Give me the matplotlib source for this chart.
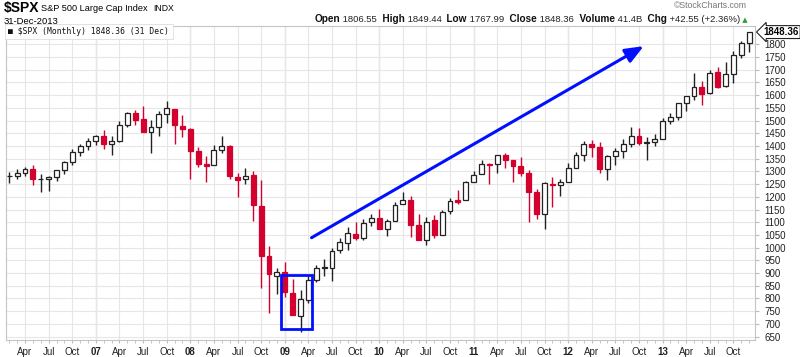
import numpy as np
import pandas as pd
import matplotlib
matplotlib.use("Agg")
import matplotlib.pyplot as plt
from matplotlib.patches import Rectangle
from matplotlib.text import Annotation

plt.rcParams['font.family'] = ['Liberation Sans', 'DejaVu Sans']

# monthly S&P 500 candles, Feb 2006 .. Dec 2013
months = pd.date_range("2006-02-01", "2013-12-01", freq="MS")
opens = [1280.0, 1280.7, 1294.8, 1310.6, 1270.1, 1270.2, 1276.7, 1303.8, 1335.9, 1377.8, 1400.6,
         1418.0, 1437.9, 1406.8, 1420.8, 1482.4, 1530.6, 1504.7, 1455.2, 1474.0, 1527.3, 1545.8, 1479.6,
         1468.0, 1378.6, 1330.5, 1326.4, 1386.0, 1399.6, 1276.7, 1269.4, 1287.8, 1164.2, 968.7, 888.6,
         903.0, 823.1, 729.6, 793.6, 872.7, 923.3, 920.8, 990.2, 1019.5, 1054.9, 1036.2, 1098.9,
         1116.6, 1073.9, 1105.4, 1171.2, 1188.6, 1087.3, 1031.1, 1107.5, 1049.7, 1143.5, 1185.7, 1186.6,
         1257.6, 1289.1, 1328.6, 1329.5, 1365.2, 1345.2, 1320.6, 1292.6, 1219.1, 1131.2, 1251.0, 1246.9,
         1258.9, 1312.5, 1365.9, 1408.5, 1397.9, 1309.9, 1362.3, 1379.3, 1406.5, 1440.9, 1412.2, 1416.2,
         1426.2, 1498.1, 1514.7, 1569.2, 1597.6, 1631.7, 1609.8, 1689.4, 1636.0, 1682.4, 1758.7, 1806.55]
highs = [1297.6, 1310.9, 1318.2, 1326.7, 1290.7, 1280.4, 1306.7, 1340.3, 1389.5, 1407.9, 1431.8,
         1441.6, 1461.6, 1438.9, 1498.0, 1535.6, 1540.6, 1555.9, 1503.9, 1538.7, 1576.1, 1545.8, 1523.6,
         1471.8, 1396.0, 1359.7, 1404.0, 1440.2, 1404.1, 1292.2, 1313.2, 1303.0, 1264.3, 1007.5, 918.9,
         943.9, 875.0, 833.0, 888.7, 930.2, 956.2, 996.7, 1039.5, 1080.2, 1101.4, 1113.7, 1130.4,
         1150.5, 1112.4, 1180.7, 1219.8, 1205.1, 1131.2, 1121.0, 1129.2, 1148.7, 1196.1, 1227.1, 1262.6,
         1302.7, 1344.1, 1332.3, 1364.6, 1370.6, 1345.2, 1356.5, 1307.4, 1229.3, 1256.6, 1277.6, 1269.4,
         1333.5, 1378.0, 1419.2, 1422.4, 1415.3, 1363.5, 1391.7, 1426.7, 1474.5, 1471.0, 1434.3, 1448.0,
         1509.9, 1530.9, 1570.3, 1597.6, 1687.2, 1654.2, 1698.8, 1709.7, 1729.9, 1775.2, 1813.6, 1849.44]
lows = [1253.6, 1268.4, 1280.7, 1245.3, 1219.3, 1224.5, 1261.3, 1290.9, 1327.1, 1361.0, 1385.9,
        1404.0, 1389.4, 1364.0, 1416.4, 1476.7, 1484.2, 1454.3, 1370.6, 1439.3, 1489.6, 1406.1, 1435.7,
        1270.1, 1316.8, 1257.0, 1324.4, 1373.1, 1272.0, 1200.4, 1248.6, 1106.4, 839.8, 741.0, 815.7,
        804.2, 734.5, 666.8, 783.3, 866.1, 888.9, 869.3, 978.5, 992.0, 1029.4, 1029.4, 1085.9,
        1071.6, 1044.5, 1105.4, 1170.7, 1040.8, 1028.3, 1010.9, 1039.7, 1049.7, 1131.9, 1173.0, 1186.6,
        1257.6, 1289.1, 1249.1, 1294.7, 1311.8, 1258.1, 1282.9, 1101.5, 1114.2, 1074.8, 1158.7, 1202.4,
        1258.9, 1312.5, 1340.0, 1357.4, 1292.0, 1266.7, 1325.4, 1354.7, 1396.6, 1403.3, 1343.4, 1398.1,
        1426.2, 1485.0, 1501.5, 1536.0, 1581.3, 1560.3, 1604.6, 1627.5, 1633.4, 1646.5, 1746.2, 1767.99]
closes = [1280.7, 1294.9, 1310.6, 1270.1, 1270.2, 1276.7, 1303.8, 1335.9, 1377.9, 1400.6, 1418.3,
          1438.2, 1406.8, 1420.9, 1482.4, 1530.6, 1503.3, 1455.3, 1474.0, 1526.8, 1549.4, 1481.1, 1468.4,
          1378.6, 1330.6, 1322.7, 1385.6, 1400.4, 1280.0, 1267.4, 1282.8, 1166.4, 968.8, 896.2, 903.3,
          825.9, 735.1, 797.9, 872.8, 919.1, 919.3, 987.5, 1020.6, 1057.1, 1036.2, 1095.6, 1115.1,
          1073.9, 1104.5, 1169.4, 1186.7, 1089.4, 1030.7, 1101.6, 1049.3, 1141.2, 1183.3, 1180.6, 1257.6,
          1286.1, 1327.2, 1325.8, 1363.6, 1345.2, 1320.6, 1292.3, 1218.9, 1131.4, 1253.3, 1247.0, 1257.6,
          1312.4, 1365.7, 1408.5, 1397.9, 1310.3, 1362.2, 1379.3, 1406.6, 1440.7, 1412.2, 1416.2, 1426.2,
          1498.1, 1514.7, 1569.2, 1597.6, 1630.7, 1606.3, 1685.7, 1633.0, 1681.6, 1756.5, 1805.8, 1848.36]
prev_close_first = 1280.1

yticks = list(range(650, 1801, 50))

# header quote for the last bar
quote = [('Open', '1806.55'), ('High', '1849.44'), ('Low', '1767.99'),
         ('Close', '1848.36'), ('Volume', '41.4B'), ('Chg', '+42.55 (+2.36%)')]

# highlighted bottom (Jan-Apr 2009) and trend arrow
box_months = ("2009-01", "2009-04")
box_prices = (681, 894)
arrow_from = ("2009-04", 1039)
arrow_to = ("2012-10", 1793)

x = np.arange(len(months))
o = np.array(opens); h = np.array(highs); l = np.array(lows); c = np.array(closes)
prev = np.concatenate([[prev_close_first], c[:-1]])
red = '#d4002d'
# red if close below previous close, filled if close below open
edge = np.where(c < prev, red, '#222222')
face = np.where(c < o, edge, 'white')

fig = plt.figure(figsize=(8, 3.57), dpi=100)
ax = fig.add_axes([0.0075, 0.048, 0.9363, 0.879])

ax.vlines(x, l, h, colors=edge, linewidth=1.0, zorder=2)
body_lo = np.minimum(o, c)
body_h = np.maximum(np.abs(c - o), 1.0)
ax.bar(x, body_h, bottom=body_lo, width=0.62, color=face, edgecolor=edge,
       linewidth=0.9, zorder=3)

def midx(s):
    return months.get_loc(pd.Timestamp(s + "-01"))

bx0 = midx(box_months[0]) - 0.45
bx1 = midx(box_months[1]) + 0.45
ax.add_patch(Rectangle((bx0, box_prices[0]), bx1 - bx0, box_prices[1] - box_prices[0],
                       fill=False, edgecolor='#0010ff', linewidth=2.0, zorder=5))
ax.annotate('', xy=(midx(arrow_to[0]) + 0.6, arrow_to[1]),
            xytext=(midx(arrow_from[0]) + 0.4, arrow_from[1]),
            arrowprops=dict(arrowstyle='-|>,head_length=1.1,head_width=0.45',
                            color='#0010ff', lw=2.2, shrinkA=0, shrinkB=0), zorder=5)

ax.set_xlim(-0.42, len(months) - 0.25)
ax.set_ylim(637, 1872)

# x ticks: quarters labelled, every month small tick
quarter = [i for i, m in enumerate(months) if m.month in (1, 4, 7, 10)]
qlabels = [months[i].strftime('%y') if months[i].month == 1 else months[i].strftime('%b')
           for i in quarter]
ax.set_xticks(quarter)
ax.set_xticklabels(qlabels, fontsize=7, color='#222222')
for lab, i in zip(ax.get_xticklabels(), quarter):
    if months[i].month == 1:
        lab.set_fontweight('bold')
ax.set_xticks(x, minor=True)
ax.tick_params(axis='x', which='both', length=2, color='#bbbbbb', pad=3)

ax.yaxis.tick_right()
ax.set_yticks(yticks)
ax.set_yticklabels([str(v) for v in yticks], fontsize=7, color='#222222')
ax.tick_params(axis='y', length=3, color='#bbbbbb', pad=4)

ax.grid(True, color='#e6e6e6', linewidth=0.8, zorder=0)
for i in quarter:
    if months[i].month == 1:
        ax.axvline(i, color='#cfcfcf', linewidth=0.9, zorder=0)
ax.set_axisbelow(True)
for sp in ax.spines.values():
    sp.set_color('#c4c4c4')
    sp.set_linewidth(0.8)

# last price tag
ax.annotate(f'{closes[-1]:.2f}', xy=(1.0, closes[-1]), xycoords=('axes fraction', 'data'),
            xytext=(6, 0), textcoords='offset points', fontsize=7, fontweight='bold',
            va='center', ha='left', annotation_clip=False,
            bbox=dict(boxstyle='larrow,pad=0.15', fc='white', ec='#222222', lw=0.8))

# legend box inside plot
ax.text(0.003, 0.997, '\u25a0 $SPX (Monthly) 1848.36 (31 Dec)', transform=ax.transAxes,
        fontsize=5.8, family='DejaVu Sans Mono', va='top', ha='left', color='#111111',
        bbox=dict(fc='white', ec='#dddddd', lw=0.6, pad=2.5), zorder=6)

# header
fig.text(0.005, 0.978, '$SPX', fontsize=10, fontweight='bold', va='center', ha='left')
fig.text(0.051, 0.976, 'S&P 500 Large Cap Index', fontsize=6.6, va='center', ha='left')
fig.text(0.192, 0.976, 'INDX', fontsize=6.2, va='center', ha='left')
fig.text(0.005, 0.941, '31-Dec-2013', fontsize=6.8, va='center', ha='left')
fig.text(0.933, 0.985, '\u00a9StockCharts.com', fontsize=6.3, color='#777777', va='center', ha='right')

# quote line, pieces chained one after another
t = fig.text(0.393, 0.932, '', fontsize=6.8, va='baseline', ha='left')
for k, (name, val) in enumerate(quote):
    gap = '' if k == 0 else '  '
    t = fig.add_artist(Annotation(gap + name, xy=(1, 0), xycoords=t, fontsize=7.2,
                                  fontweight='bold', va='bottom', ha='left', color='#111111'))
    t = fig.add_artist(Annotation(' ' + val, xy=(1, 0), xycoords=t, fontsize=6.8,
                                  va='bottom', ha='left', color='#222222'))
fig.add_artist(Annotation(' \u25b2', xy=(1, 0.1), xycoords=t, fontsize=5, va='bottom',
                          ha='left', color='#2e9e2e', family='DejaVu Sans'))

fig.savefig('out.png', dpi=100)
